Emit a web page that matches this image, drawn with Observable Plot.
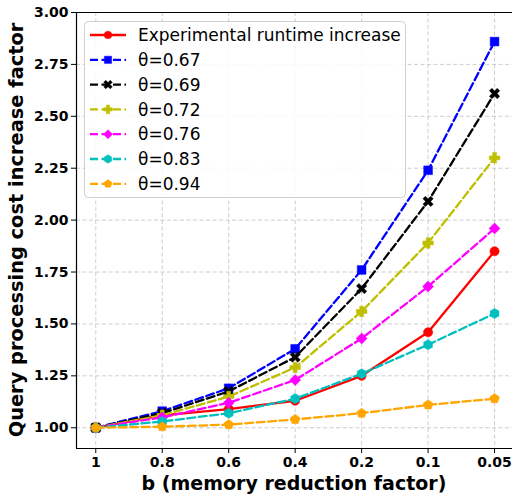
<!DOCTYPE html>
<html><head><meta charset="utf-8">
<script src="https://cdn.jsdelivr.net/npm/d3@7"></script>
<script src="https://cdn.jsdelivr.net/npm/@observablehq/plot@0.6"></script>
<style>body{margin:0;background:#fff} svg{display:block}</style>
</head><body><div id="chart"></div>
<script>
// ---- data ----
const bLabels = ["1", "0.8", "0.6", "0.4", "0.2", "0.1", "0.05"];
const experimental = [1.00, 1.06, 1.09, 1.13, 1.25, 1.46, 1.85];
const theta067 = [1.00, 1.08, 1.19, 1.38, 1.76, 2.24, 2.86];
const theta069 = [1.00, 1.07, 1.175, 1.34, 1.67, 2.09, 2.61];
const theta072 = [1.00, 1.06, 1.15, 1.29, 1.56, 1.89, 2.30];
const theta076 = [1.00, 1.05, 1.12, 1.23, 1.43, 1.68, 1.96];
const theta083 = [1.00, 1.03, 1.07, 1.14, 1.26, 1.40, 1.55];
const theta094 = [1.00, 1.005, 1.015, 1.04, 1.07, 1.11, 1.14];
const seriesNames = ["Experimental runtime increase", "θ=0.67", "θ=0.69", "θ=0.72", "θ=0.76", "θ=0.83", "θ=0.94"];
const seriesValues = [experimental, theta067, theta069, theta072, theta076, theta083, theta094];
const yTicks = [1.00, 1.25, 1.50, 1.75, 2.00, 2.25, 2.50, 2.75, 3.00];

// ---- custom marker shapes ----
function poly(ctx, pts) { ctx.moveTo(pts[0][0], pts[0][1]); for (let k = 1; k < pts.length; k++) ctx.lineTo(pts[k][0], pts[k][1]); ctx.closePath(); }
function rad(size) { return Math.sqrt(size / Math.PI); }
function regular(n, R, rot) { const p = []; for (let k = 0; k < n; k++) { const a = rot + k * 2 * Math.PI / n; p.push([R * Math.cos(a), R * Math.sin(a)]); } return p; }
function plusPts(R, ang, wf) {
  const w = R * wf, L = R * 1.15;
  const base = [[-w,-L],[w,-L],[w,-w],[L,-w],[L,w],[w,w],[w,L],[-w,L],[-w,w],[-L,w],[-L,-w],[-w,-w]];
  const c = Math.cos(ang), s = Math.sin(ang);
  return base.map(([x, y]) => [x * c - y * s, x * s + y * c]);
}
const symCircle = { draw(ctx, size) { const R = rad(size); ctx.moveTo(R, 0); ctx.arc(0, 0, R, 0, 2 * Math.PI); } };
const symSquare = { draw(ctx, size) { const h = rad(size) * 0.95; poly(ctx, [[-h,-h],[h,-h],[h,h],[-h,h]]); } };
const symX = { draw(ctx, size) { poly(ctx, plusPts(rad(size) * 1.05, Math.PI / 4, 0.36)); } };
const symPlus = { draw(ctx, size) { poly(ctx, plusPts(rad(size), 0, 0.42)); } };
const symDiamond = { draw(ctx, size) { const h = rad(size) * 1.2; poly(ctx, [[0,-h],[h,0],[0,h],[-h,0]]); } };
const symHexagon = { draw(ctx, size) { poly(ctx, regular(6, rad(size) * 1.1, -Math.PI / 2)); } };
const symPentagon = { draw(ctx, size) { poly(ctx, regular(5, rad(size) * 1.1, -Math.PI / 2)); } };

const DASH = "8,3.5";
const styles = [
  { color: "#ff0000", dash: null, sym: symCircle },
  { color: "#0000ff", dash: DASH, sym: symSquare },
  { color: "#000000", dash: DASH, sym: symX },
  { color: "#bfbf00", dash: DASH, sym: symPlus },
  { color: "#ff00ff", dash: DASH, sym: symDiamond },
  { color: "#00bfbf", dash: DASH, sym: symHexagon },
  { color: "#ffa500", dash: DASH, sym: symPentagon }
];
const R = 4.6, RL = 3.8;

const marks = [
  Plot.gridX(d3.range(bLabels.length), { stroke: "#b0b0b0", strokeOpacity: 0.8, strokeDasharray: "4,2.5", strokeWidth: 0.8 }),
  Plot.gridY(yTicks, { stroke: "#b0b0b0", strokeOpacity: 0.8, strokeDasharray: "4,2.5", strokeWidth: 0.8 }),
];
seriesValues.forEach((vals, s) => {
  const data = vals.map((v, i) => ({ i, v }));
  const st = styles[s];
  marks.push(Plot.line(data, { x: "i", y: "v", stroke: st.color, strokeWidth: 2.3, strokeDasharray: st.dash }));
  marks.push(Plot.dot(data, { x: "i", y: "v", symbol: st.sym, r: R, fill: st.color, stroke: st.color, strokeWidth: 0.5 }));
});
marks.push(
  Plot.ruleY([0.9], { stroke: "#000", strokeWidth: 1.2 }),
  Plot.ruleY([3.0], { stroke: "#000", strokeWidth: 1.2 }),
  Plot.ruleX([-0.29], { stroke: "#000", strokeWidth: 1.2 }),
  Plot.axisX(d3.range(bLabels.length), { tickFormat: i => bLabels[i], fontSize: 14, fontWeight: "bold", tickSize: 5, tickPadding: 4, label: null, stroke: "#000" }),
  Plot.axisY(yTicks, { tickFormat: d3.format(".2f"), fontSize: 14, fontWeight: "bold", tickSize: 5, tickPadding: 3, label: null, stroke: "#000" })
);

const svg = Plot.plot({
  width: 512, height: 498,
  marginLeft: 76, marginRight: 0, marginTop: 12, marginBottom: 50,
  style: { fontFamily: "DejaVu Sans", color: "#000", background: "#fff" },
  x: { type: "linear", domain: [-0.29, 6.27] },
  y: { domain: [0.9, 3.0] },
  marks
});

const g = d3.select(svg);
g.selectAll("text").attr("fill", "#000");
// axis titles
g.append("text").attr("x", 294).attr("y", 490).attr("text-anchor", "middle")
  .style("font", "bold 19px 'DejaVu Sans'").attr("fill", "#000").text("b (memory reduction factor)");
g.append("text").attr("transform", "translate(23,230) rotate(-90)").attr("text-anchor", "middle")
  .style("font", "bold 19.4px 'DejaVu Sans'").attr("fill", "#000").text("Query processing cost increase factor");

// legend
const lg = g.append("g");
lg.append("rect").attr("x", 84.5).attr("y", 21.5).attr("width", 321).attr("height", 176).attr("rx", 4)
  .attr("fill", "#fff").attr("fill-opacity", 0.85).attr("stroke", "#d0d0d0");
seriesNames.forEach((name, s) => {
  const y = 35 + s * 24.8, st = styles[s];
  lg.append("line").attr("x1", 90).attr("x2", 126).attr("y1", y).attr("y2", y)
    .attr("stroke", st.color).attr("stroke-width", 2.3).attr("stroke-dasharray", st.dash);
  lg.append("path").attr("transform", `translate(108,${y})`).attr("d", d3.symbol(st.sym, Math.PI * RL * RL)())
    .attr("fill", st.color).attr("stroke", st.color).attr("stroke-width", 0.5);
  lg.append("text").attr("x", 138).attr("y", y).attr("dy", "0.36em").attr("text-anchor", "start")
    .style("font", "17px 'DejaVu Sans'").attr("fill", "#000").text(name);
});

document.getElementById("chart").appendChild(svg);
</script></body></html>
